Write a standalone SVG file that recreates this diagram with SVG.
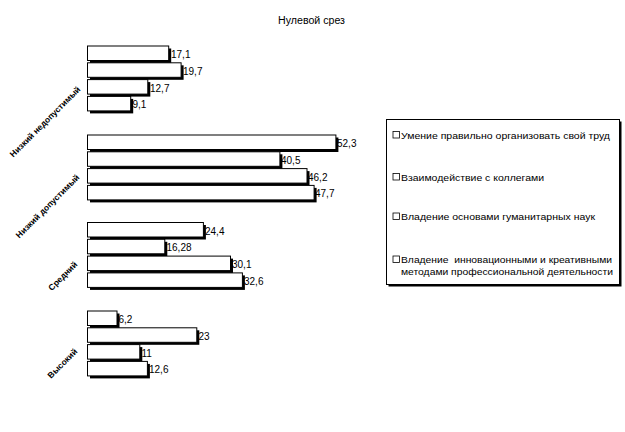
<svg xmlns="http://www.w3.org/2000/svg" width="625" height="432" viewBox="0 0 625 432">
<style>
text{font-family:"Liberation Sans",Arial,sans-serif;fill:#000}
.bar{fill:#fff;stroke:#000;stroke-width:1}
.sh{fill:#000}
.val{font-size:10px}
.cat{font-size:8.5px;font-weight:bold;text-anchor:end}
.leg{font-size:9.5px}
.mk{fill:#fff;stroke:#000;stroke-width:0.8}
</style>
<rect width="625" height="432" fill="#fff"/>
<text x="311.5" y="24" font-size="10" text-anchor="middle" textLength="67" lengthAdjust="spacingAndGlyphs">Нулевой срез</text>

<g id="group-nizkiy-nedopustimyy">
<rect class="sh" x="90" y="48.5" width="81.2" height="14.5"/><rect class="bar" x="87.5" y="46" width="81.2" height="14.5"/><text class="val" x="171" y="58">17,1</text>
<rect class="sh" x="90" y="65.3" width="93.6" height="14.5"/><rect class="bar" x="87.5" y="62.8" width="93.6" height="14.5"/><text class="val" x="183" y="74.8">19,7</text>
<rect class="sh" x="90" y="82.1" width="60.3" height="14.5"/><rect class="bar" x="87.5" y="79.6" width="60.3" height="14.5"/><text class="val" x="150" y="91.6">12,7</text>
<rect class="sh" x="90" y="98.9" width="43.2" height="14.5"/><rect class="bar" x="87.5" y="96.4" width="43.2" height="14.5"/><text class="val" x="132.5" y="108.4">9,1</text>
<text class="cat" transform="translate(81,90) rotate(-45)">Низкий недопустимый</text>
</g>

<g id="group-nizkiy-dopustimyy">
<rect class="sh" x="90" y="137.5" width="248.4" height="14.5"/><rect class="bar" x="87.5" y="135" width="248.4" height="14.5"/><text class="val" x="337" y="147">52,3</text>
<rect class="sh" x="90" y="154.3" width="192.4" height="14.5"/><rect class="bar" x="87.5" y="151.8" width="192.4" height="14.5"/><text class="val" x="281" y="163.8">40,5</text>
<rect class="sh" x="90" y="171.1" width="219.5" height="14.5"/><rect class="bar" x="87.5" y="168.6" width="219.5" height="14.5"/><text class="val" x="308" y="180.6">46,2</text>
<rect class="sh" x="90" y="187.9" width="226.6" height="14.5"/><rect class="bar" x="87.5" y="185.4" width="226.6" height="14.5"/><text class="val" x="315" y="197.4">47,7</text>
<text class="cat" transform="translate(80,178) rotate(-45)">Низкий допустимый</text>
</g>

<g id="group-sredniy">
<rect class="sh" x="90" y="225" width="115.9" height="14.5"/><rect class="bar" x="87.5" y="222.5" width="115.9" height="14.5"/><text class="val" x="205" y="234.5">24,4</text>
<rect class="sh" x="90" y="241.8" width="77.3" height="14.5"/><rect class="bar" x="87.5" y="239.3" width="77.3" height="14.5"/><text class="val" x="166.5" y="251.3">16,28</text>
<rect class="sh" x="90" y="258.6" width="143" height="14.5"/><rect class="bar" x="87.5" y="256.1" width="143" height="14.5"/><text class="val" x="232" y="268.1">30,1</text>
<rect class="sh" x="90" y="275.4" width="154.9" height="14.5"/><rect class="bar" x="87.5" y="272.9" width="154.9" height="14.5"/><text class="val" x="244" y="284.9">32,6</text>
<text class="cat" transform="translate(78,265) rotate(-45)">Средний</text>
</g>

<g id="group-vysokiy">
<rect class="sh" x="90" y="313.5" width="29.5" height="14.5"/><rect class="bar" x="87.5" y="311" width="29.5" height="14.5"/><text class="val" x="118.5" y="323">6,2</text>
<rect class="sh" x="90" y="330.3" width="109.3" height="14.5"/><rect class="bar" x="87.5" y="327.8" width="109.3" height="14.5"/><text class="val" x="198.5" y="339.8">23</text>
<rect class="sh" x="90" y="347.1" width="52.3" height="14.5"/><rect class="bar" x="87.5" y="344.6" width="52.3" height="14.5"/><text class="val" x="141.5" y="356.6">11</text>
<rect class="sh" x="90" y="363.9" width="59.9" height="14.5"/><rect class="bar" x="87.5" y="361.4" width="59.9" height="14.5"/><text class="val" x="149" y="373.4">12,6</text>
<text class="cat" transform="translate(78,352) rotate(-45)">Высокий</text>
</g>

<g id="legend">
<rect class="sh" x="388.5" y="121.5" width="233" height="165"/>
<rect x="386.5" y="119.5" width="233" height="165" fill="#fff" stroke="#000" stroke-width="1"/>
<rect class="mk" x="393" y="131.5" width="6.5" height="6.5"/>
<text class="leg" x="401" y="138.5" textLength="209" lengthAdjust="spacingAndGlyphs">Умение правильно организовать свой труд</text>
<rect class="mk" x="393" y="173.5" width="6.5" height="6.5"/>
<text class="leg" x="401" y="180.5" textLength="143" lengthAdjust="spacingAndGlyphs">Взаимодействие с коллегами</text>
<rect class="mk" x="393" y="213" width="6.5" height="6.5"/>
<text class="leg" x="401" y="220" textLength="194" lengthAdjust="spacingAndGlyphs">Владение основами гуманитарных наук</text>
<rect class="mk" x="393" y="256" width="6.5" height="6.5"/>
<text class="leg" x="401" y="263" textLength="211" lengthAdjust="spacingAndGlyphs" xml:space="preserve">Владение  инновационными и креативными</text>
<text class="leg" x="401" y="275" textLength="212" lengthAdjust="spacingAndGlyphs">методами профессиональной деятельности</text>
</g>
</svg>
